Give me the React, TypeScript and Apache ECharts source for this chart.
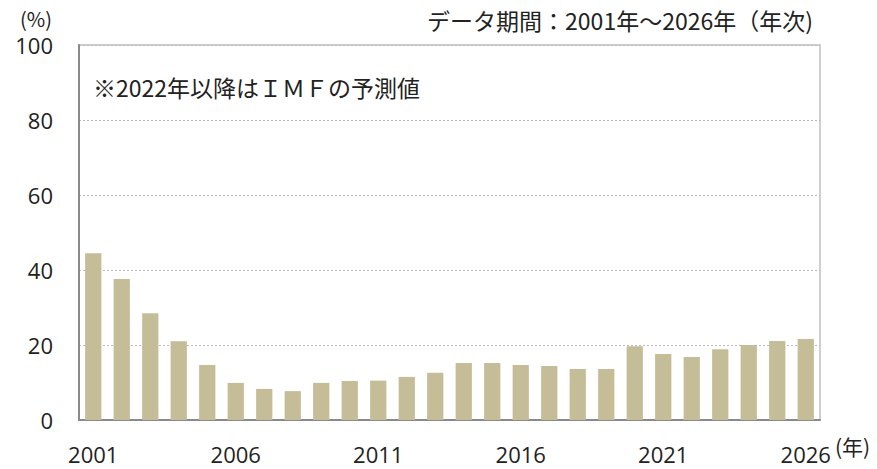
import React, { useEffect, useRef } from "react";
import * as echarts from "echarts";

const years = [
  "2001", "2002", "2003", "2004", "2005", "2006", "2007", "2008", "2009", "2010",
  "2011", "2012", "2013", "2014", "2015", "2016", "2017", "2018", "2019", "2020",
  "2021", "2022", "2023", "2024", "2025", "2026",
];
const values = [
  44.5, 37.6, 28.5, 21.0, 14.7, 9.9, 8.3, 7.7, 9.9, 10.4,
  10.5, 11.5, 12.6, 15.2, 15.2, 14.7, 14.4, 13.6, 13.6, 19.7,
  17.6, 16.8, 18.9, 20.0, 21.1, 21.6,
];
const yTicks = [0, 20, 40, 60, 80, 100];

const FONT = "'Noto Sans CJK JP', 'Noto Sans', sans-serif";
const NUMFONT = "'Open Sans', 'Noto Sans', sans-serif";

export default function App() {
  const ref = useRef<HTMLDivElement>(null);
  useEffect(() => {
    if (!ref.current) return;
    const chart = echarts.init(ref.current, undefined, { renderer: "svg" });
    chart.setOption({
      animation: false,
      textStyle: { fontFamily: FONT },
      grid: {
        left: 79,
        right: 57,
        top: 45,
        bottom: 49,
        show: true,
        borderColor: "#c0c0c0",
        borderWidth: 1.5,
        backgroundColor: "transparent",
      },
      graphic: [
        {
          type: "text",
          x: 36,
          y: 18,
          style: { text: "(%)", font: `20px ${FONT}`, fill: "#222", align: "center", verticalAlign: "middle" },
        },
        {
          type: "text",
          x: 813,
          y: 20,
          style: {
            text: "データ期間：2001年～2026年（年次)",
            font: `23px ${FONT}`,
            fill: "#222",
            align: "right",
            verticalAlign: "middle",
          },
        },
        {
          type: "text",
          x: 93,
          y: 87,
          style: {
            text: "※2022年以降はＩＭＦの予測値",
            font: `23px ${FONT}`,
            fill: "#222",
            align: "left",
            verticalAlign: "middle",
          },
        },
        {
          type: "text",
          x: 835,
          y: 446,
          style: { text: "(年)", font: `21px ${FONT}`, fill: "#222", align: "left", verticalAlign: "middle" },
        },
      ],
      xAxis: {
        type: "category",
        data: years,
        axisLine: { show: true, lineStyle: { color: "#8a8a8a", width: 2 } },
        axisTick: { show: false },
        axisLabel: {
          interval: 4,
          color: "#222",
          fontSize: 22,
          margin: 23,
          fontFamily: NUMFONT,
        },
      },
      yAxis: {
        type: "value",
        min: yTicks[0],
        max: yTicks[yTicks.length - 1],
        interval: 20,
        axisLine: { show: true, lineStyle: { color: "#8a8a8a", width: 2 } },
        axisTick: { show: false },
        axisLabel: { color: "#222", fontSize: 22, margin: 26, fontFamily: NUMFONT },
        splitLine: { show: true, lineStyle: { color: "#bbbbbb", type: [2, 2], width: 1.2 } },
      },
      series: [
        {
          type: "bar",
          data: values,
          barWidth: "57%",
          itemStyle: { color: "#c5bd98" },
        },
      ],
    });
    return () => chart.dispose();
  }, []);
  return (
    <div
      ref={ref}
      style={{ position: "absolute", left: 0, top: 0, width: 877, height: 469 }}
    />
  );
}
